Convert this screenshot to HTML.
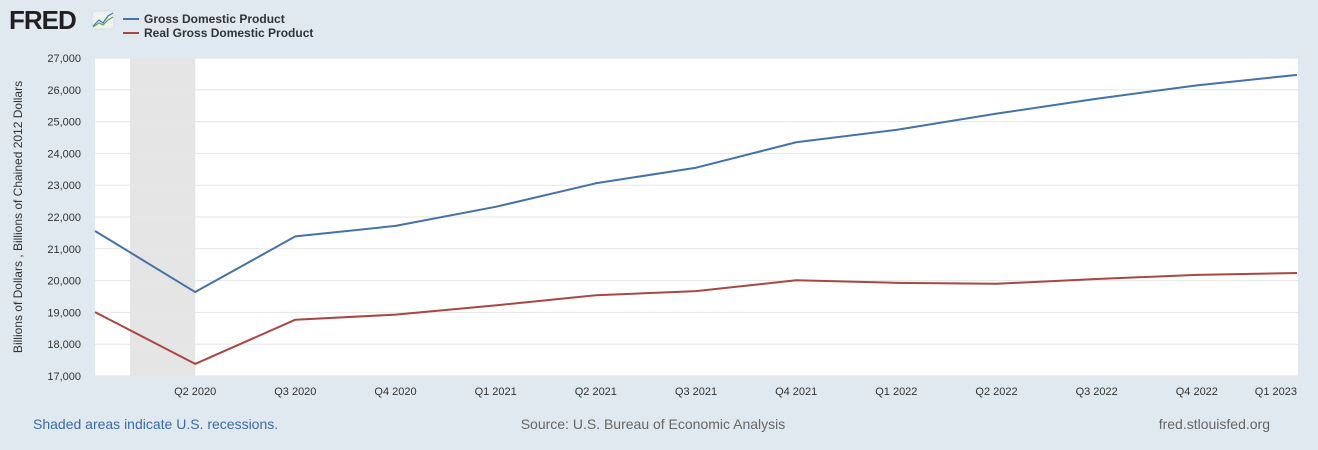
<!DOCTYPE html>
<html><head><meta charset="utf-8"><style>
body{margin:0;background:#e1e9f0;font-family:"Liberation Sans",sans-serif;}
svg{display:block}
</style></head><body>
<svg width="1318" height="450">
<rect x="0" y="0" width="1318" height="450" fill="#e1e9f0"/>
<g>
<text x="9" y="29" font-size="26" font-weight="bold" fill="#231f20" letter-spacing="-1">FRED</text>
<rect x="92" y="11" width="22" height="18" rx="3" fill="#eef2f0" stroke="#ccc" stroke-width="0.5"/>
<polyline points="93,26 99,20 103,23 108,16 113,13" fill="none" stroke="#3b76b8" stroke-width="1.2"/>
<polyline points="93,27 99,23 103,25 108,20 113,17" fill="none" stroke="#6aa343" stroke-width="1.2"/>
</g>
<g>
<line x1="123" y1="19" x2="139" y2="19" stroke="#4572a7" stroke-width="2"/>
<text x="144" y="23" font-size="12" font-weight="bold" fill="#333">Gross Domestic Product</text>
<line x1="123" y1="33" x2="139" y2="33" stroke="#aa4643" stroke-width="2"/>
<text x="144" y="37" font-size="12" font-weight="bold" fill="#333">Real Gross Domestic Product</text>
</g>
<rect x="95" y="58" width="1203" height="318" fill="#fff"/>
<g id="chart"></g>
<text x="22" y="217" font-size="12" fill="#333" text-anchor="middle" transform="rotate(-90 22 217)">Billions of Dollars , Billions of Chained 2012 Dollars</text>
<text x="33" y="429" font-size="14" fill="#3a6aa8">Shaded areas indicate U.S. recessions.</text>
<text x="653" y="429" font-size="14" fill="#666" text-anchor="middle">Source: U.S. Bureau of Economic Analysis</text>
<text x="1270" y="429" font-size="14" fill="#666" text-anchor="end">fred.stlouisfed.org</text>
</svg>
<script>
const categories=["Q1 2020","Q2 2020","Q3 2020","Q4 2020","Q1 2021","Q2 2021","Q3 2021","Q4 2021","Q1 2022","Q2 2022","Q3 2022","Q4 2022","Q1 2023"];
const gdp=[21560,19640,21390,21720,22320,23060,23550,24350,24740,25250,25720,26140,26470];
const realGdp=[19010,17380,18770,18930,19220,19540,19670,20010,19930,19900,20050,20180,20240];
const yTicks=[17000,18000,19000,20000,21000,22000,23000,24000,25000,26000,27000];
const recessionStart=0.35, recessionEnd=1;
const NS="http://www.w3.org/2000/svg";
const g=document.getElementById("chart");
const X0=95,X1=1297,Y0=376,Y1=58;
const xs=i=>X0+(X1-X0)*i/(categories.length-1);
const ys=v=>Y0-(v-17000)/(27000-17000)*(Y0-Y1);
function mk(t,a){const e=document.createElementNS(NS,t);for(const k in a)e.setAttribute(k,a[k]);g.appendChild(e);return e;}
const rec=mk("rect",{x:xs(recessionStart),y:Y1,width:xs(recessionEnd)-xs(recessionStart),height:Y0-Y1,fill:"#e5e5e5"});


yTicks.forEach(v=>{
 const l=mk("line",{x1:X0,x2:1298,y1:ys(v),y2:ys(v),stroke:"#e6e6e6","stroke-width":1});
 
 
 const t=mk("text",{x:81,y:ys(v)+4,"font-size":11,fill:"#333","text-anchor":"end"});
 t.textContent=v.toLocaleString("en-US");
 
 
});
categories.forEach((c,i)=>{
 if(i===0)return;
 const t=mk("text",{x:i===categories.length-1?X1:xs(i),y:395,"font-size":11,fill:"#333","text-anchor":i===categories.length-1?"end":"middle"});
 t.textContent=c;
 
 
});
function line(d,col,name){
 const p=mk("polyline",{points:d.map((v,i)=>xs(i)+","+ys(v)).join(" "),fill:"none",stroke:col,"stroke-width":2,"stroke-linejoin":"round"});
 
 
}
line(gdp,"#4572a7","gdp-line");
line(realGdp,"#aa4643","real-gdp-line");
</script>
</body></html>
